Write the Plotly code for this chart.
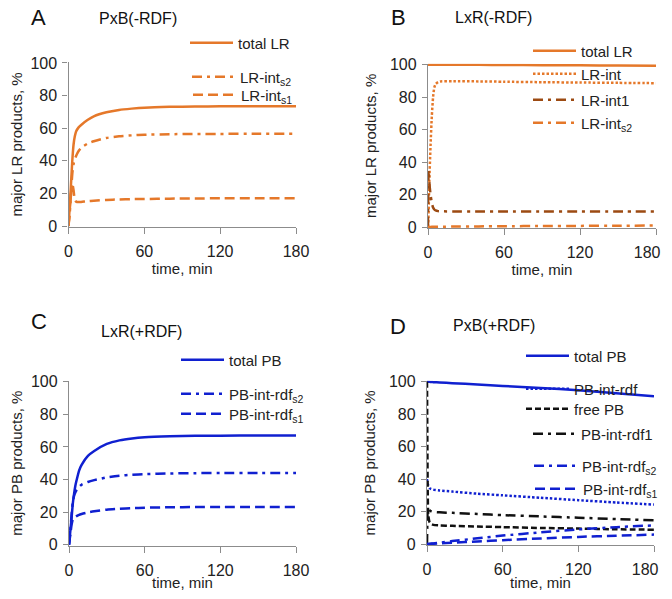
import plotly.graph_objects as go

# ---------------- data ----------------
t_A = [0, 1, 2, 3, 4, 5, 6, 8, 10, 15, 20, 30, 40, 50, 60, 80, 100, 120, 150, 180]
A_total_LR = [0, 12, 26, 40, 50, 55, 58, 60.5, 62, 65, 67.3, 69.8, 71.2, 72, 72.6, 73.1, 73.3, 73.4, 73.5, 73.5]
A_LR_int_s2 = [0, 8, 20, 32, 38, 41, 43, 46, 48, 50.5, 52, 54, 55, 55.6, 56, 56.3, 56.5, 56.5, 56.6, 56.6]
A_LR_int_s1 = [0, 10, 20, 26, 22, 16, 15, 14.7, 14.8, 15.2, 15.5, 16, 16.3, 16.5, 16.6, 16.8, 16.9, 17, 17, 17]

t_B = [0, 0.5, 1, 2, 3, 4, 5, 6, 8, 10, 20, 40, 60, 90, 120, 150, 180]
B_total_LR = [100, 100, 100, 100, 100, 100, 100, 100, 100, 100, 99.9, 99.9, 99.8, 99.7, 99.6, 99.5, 99.4]
B_LR_int = [0, 10, 27, 50, 68, 80, 86, 88, 89.3, 89.7, 89.8, 89.7, 89.5, 89.2, 89, 88.8, 88.6]
B_LR_int1 = [0, 35, 28, 20, 15, 12, 10.8, 10.2, 9.8, 9.7, 9.6, 9.6, 9.6, 9.6, 9.6, 9.5, 9.5]
B_LR_int_s2 = [0, 0, 0, 0.05, 0.1, 0.1, 0.1, 0.15, 0.2, 0.2, 0.3, 0.4, 0.5, 0.6, 0.7, 0.8, 0.9]

t_C = [0, 1, 2, 3, 4, 5, 6, 8, 10, 15, 20, 30, 40, 50, 60, 80, 100, 120, 150, 180]
C_total_PB = [0, 8, 16, 25, 31, 36, 39.5, 45.5, 49, 54.5, 57.5, 61.8, 64, 65.2, 65.9, 66.5, 66.8, 66.9, 67, 67]
C_PB_int_rdf_s2 = [0, 8, 18, 26, 30, 32, 33.5, 35.5, 36.8, 38.5, 39.6, 41.3, 42.3, 42.9, 43.3, 43.7, 43.9, 44, 44, 44]
C_PB_int_rdf_s1 = [0, 6, 12, 15.5, 16.5, 17, 17.5, 18.3, 18.8, 19.8, 20.5, 21.5, 22, 22.4, 22.7, 23, 23.1, 23.2, 23.2, 23.2]

t_D = [0, 0.3, 0.6, 1, 2, 3, 5, 10, 20, 40, 60, 90, 120, 150, 180]
D_total_PB = [100, 100, 100, 99.95, 99.9, 99.8, 99.7, 99.5, 99.1, 98.3, 97.4, 96.1, 94.7, 92.9, 91]
D_PB_int_rdf = [40, 38, 37, 36, 34.5, 34, 33.5, 33, 32.3, 31, 30, 28.5, 27, 25.6, 24.3]
D_free_PB = [100, 60, 30, 18, 13.5, 12.5, 11.8, 11.5, 11.2, 10.8, 10.4, 9.9, 9.5, 9.1, 8.8]
D_PB_int_rdf1 = [0, 15, 22, 21.5, 20.8, 20.3, 19.8, 19.5, 19.2, 18.5, 17.8, 17, 16.2, 15.4, 14.6]
D_PB_int_rdf_s2 = [0, 0, 0, 0.05, 0.1, 0.2, 0.35, 0.8, 1.8, 3.5, 5.2, 7.2, 9, 10.4, 11.5]
D_PB_int_rdf_s1 = [0, 0, 0, 0.03, 0.06, 0.1, 0.2, 0.4, 0.8, 1.6, 2.4, 3.4, 4.4, 5.1, 5.8]

x_ticks = [0, 60, 120, 180]
x_tick_labels = ["0", "60", "120", "180"]
# in panels B and D the last label sits a little left of its tick
x_tick_labels_right = ["0", "60", "120", "180\u00a0\u00a0\u00a0\u00a0"]
y_ticks = [0, 20, 40, 60, 80, 100]
y_tick_labels = ["0", "20", "40", "60", "80", "100"]

# ---------------- styles ----------------
# the page body has an 8px margin; keep the whole figure inside the window
OFF = 8
W, H = 672 - 2 * OFF, 599 - 2 * OFF
ORANGE = "#E5782A"
BROWN = "#9C4A12"
BLUE = "#1020D0"
BLACK = "#111111"
FONT = "Liberation Sans, Arial, sans-serif"

SOLID = "solid"
DASH = "10px,5px"
DASHDOT = "10px,5px,3px,5px"
DOT = "2.5px,2px"
ITEMW = 43

def px(x):
    return (x - OFF) / W

def py(y):
    return 1 - (y - OFF) / H

fig = go.Figure()

legend_defs = []

def add(name, x, y, color, dash, axis, text_left, center_y, width=2.5):
    idx = len(legend_defs) + 1
    lname = "legend" if idx == 1 else f"legend{idx}"
    legend_defs.append((lname, text_left, center_y))
    fig.add_trace(go.Scatter(
        x=x, y=y, mode="lines", name=name,
        line=dict(color=color, dash=dash, width=width, shape="spline", smoothing=0.6),
        xaxis="x" + axis if axis != "1" else "x",
        yaxis="y" + axis if axis != "1" else "y",
        legend=lname, showlegend=True, hoverinfo="skip",
    ))

# Panel A
add("total LR", t_A, A_total_LR, ORANGE, SOLID, "1", 238, 43)
add("LR-int<sub>s2</sub>", t_A, A_LR_int_s2, ORANGE, DASHDOT, "1", 240, 77)
add("LR-int<sub>s1</sub>", t_A, A_LR_int_s1, ORANGE, DASH, "1", 241, 95)
# Panel B
add("total LR", t_B, B_total_LR, ORANGE, SOLID, "2", 581, 51)
add("LR-int", t_B, B_LR_int, ORANGE, DOT, "2", 581, 74)
add("LR-int1", t_B, B_LR_int1, BROWN, DASHDOT, "2", 581, 100)
add("LR-int<sub>s2</sub>", t_B, B_LR_int_s2, ORANGE, DASHDOT, "2", 581, 123)
# Panel C
add("total PB", t_C, C_total_PB, BLUE, SOLID, "3", 229, 360)
add("PB-int-rdf<sub>s2</sub>", t_C, C_PB_int_rdf_s2, BLUE, DASHDOT, "3", 229, 394)
add("PB-int-rdf<sub>s1</sub>", t_C, C_PB_int_rdf_s1, BLUE, DASH, "3", 229, 414)
# Panel D
add("total PB", t_D, D_total_PB, BLUE, SOLID, "4", 574, 356)
add("PB-int-rdf", t_D, D_PB_int_rdf, BLUE, DOT, "4", 574, 389)
add("free PB", t_D, D_free_PB, BLACK, "6px,3px", "4", 574, 409)
add("PB-int-rdf1", t_D, D_PB_int_rdf1, BLACK, DASHDOT, "4", 581, 434)
add("PB-int-rdf<sub>s2</sub>", t_D, D_PB_int_rdf_s2, BLUE, DASHDOT, "4", 582, 466)
add("PB-int-rdf<sub>s1</sub>", t_D, D_PB_int_rdf_s1, BLUE, DASH, "4", 583, 489)

AXC = "#8c8c8c"
TXT = "#222222"
TICKF = dict(family=FONT, size=16, color=TXT)

def xaxis(x0, x1, anchor, labels):
    return dict(domain=[px(x0), px(x1)], anchor=anchor, range=[0, 180], automargin=False,
                tickvals=x_ticks, ticktext=labels, ticklabeloverflow="allow",
                showline=True, linecolor=AXC, linewidth=1.3, ticks="outside",
                tickcolor=AXC, ticklen=6, tickwidth=1.3, showgrid=False, zeroline=False,
                tickfont=TICKF, ticklabelstandoff=4,
                title=dict(text="time, min", font=dict(family=FONT, size=15, color=TXT), standoff=3))

def yaxis(y0, y1, anchor, label):
    return dict(domain=[py(y1), py(y0)], anchor=anchor, range=[-0.6, 100.6], automargin=False,
                tickvals=y_ticks, ticktext=y_tick_labels, ticklabeloverflow="allow",
                showline=True, linecolor=AXC, linewidth=1.3, ticks="outside",
                tickcolor=AXC, ticklen=5, tickwidth=1.3, showgrid=False, zeroline=False,
                tickfont=TICKF, ticklabelstandoff=2,
                title=dict(text=label, font=dict(family=FONT, size=15, color=TXT), standoff=9))

layout = dict(
    width=W, height=H, margin=dict(l=0, r=0, t=0, b=0, autoexpand=False),
    paper_bgcolor="white", plot_bgcolor="white",
    font=dict(family=FONT, size=15, color=TXT),
    xaxis=xaxis(68.5, 296, "y", x_tick_labels), yaxis=yaxis(62, 227, "x", "major LR products, %"),
    xaxis2=xaxis(428, 656, "y2", x_tick_labels_right), yaxis2=yaxis(63.7, 228, "x2", "major LR products, %"),
    xaxis3=xaxis(69, 296, "y3", x_tick_labels), yaxis3=yaxis(380.7, 545.7, "x3", "major PB products, %"),
    xaxis4=xaxis(427, 654, "y4", x_tick_labels_right), yaxis4=yaxis(380.7, 545, "x4", "major PB products, %"),
)

for lname, text_left, cy in legend_defs:
    layout[lname] = dict(x=px(text_left - ITEMW - 10), y=py(cy), xanchor="left", yanchor="middle",
                         bgcolor="rgba(0,0,0,0)", borderwidth=0, itemwidth=ITEMW,
                         font=dict(family=FONT, size=15, color=TXT))

fig.update_layout(**layout)

annots = [
    ("A", 38, 18, 22), ("B", 398, 18, 22), ("C", 39, 322, 22), ("D", 398, 326, 22),
    ("PxB(-RDF)", 138, 19, 16), ("LxR(-RDF)", 493, 18, 16),
    ("LxR(+RDF)", 141, 331, 16), ("PxB(+RDF)", 494, 325, 16),
]
for text, x, y, size in annots:
    fig.add_annotation(text=text, x=px(x), y=py(y), xref="paper", yref="paper",
                       xanchor="center", yanchor="middle", showarrow=False,
                       font=dict(family=FONT, size=size, color="#111111"))

fig.write_html("out.html")
